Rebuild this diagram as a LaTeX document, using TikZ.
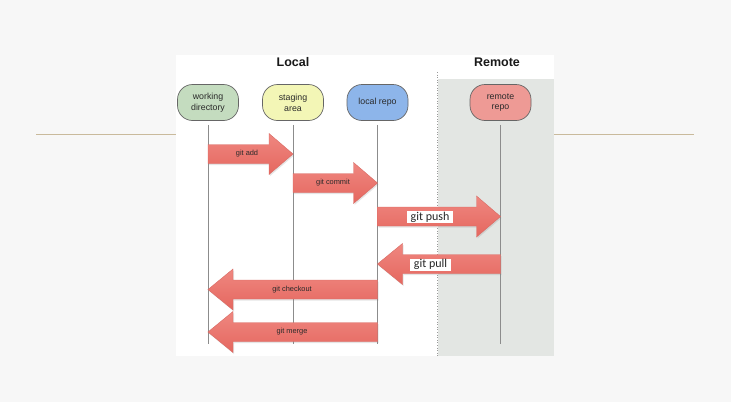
\documentclass[tikz,border=0pt]{standalone}
\usepackage{fontspec}
\setmainfont{Liberation Sans}
\newfontfamily\calibri{Carlito}
\usetikzlibrary{shadows}
\definecolor{bgc}{HTML}{F7F7F7}
\definecolor{tanc}{HTML}{C9BA9C}
\definecolor{remoteg}{HTML}{E3E6E3}
\definecolor{wdfill}{HTML}{C4DCBF}
\definecolor{safill}{HTML}{F3F6B6}
\definecolor{lrfill}{HTML}{8DB5EA}
\definecolor{rrfill}{HTML}{EE9A95}
\definecolor{arrtop}{HTML}{EF8780}
\definecolor{arrbot}{HTML}{E5675F}
\definecolor{arredge}{HTML}{D86A63}
\definecolor{txt}{HTML}{2A2A2A}
\tikzset{
  actor/.style={draw=black!60, line width=0.7pt, rounded corners=15pt,
    minimum width=61pt, minimum height=36pt, align=center, text=txt,
    font=\fontsize{8.8}{10.8}\selectfont, inner sep=1pt},
  life/.style={draw=black!45, line width=0.9pt},
  blockarr/.style={top color=arrtop, bottom color=arrbot, draw=arredge, line width=0.4pt,
    drop shadow={opacity=0.2, shadow xshift=1pt, shadow yshift=-1.5pt}},
  smalllbl/.style={text=txt, font=\fontsize{7.4}{8}\selectfont, inner sep=0pt},
  biglbl/.style={fill=white, text=black!85, font=\calibri\fontsize{12}{12}\selectfont,
    inner xsep=3.5pt, inner ysep=0.5pt, text height=8.5pt, text depth=2.5pt},
  header/.style={font=\bfseries\fontsize{12.5}{14}\selectfont, text=black!90}
}
% right-pointing: #1 = x from, #2 = x tip, #3 = y centre
\newcommand\barrowR[3]{%
  \path[blockarr] (#1,{#3-9.5}) -- ({#2-24},{#3-9.5}) -- ({#2-24},{#3-20.5}) -- (#2,#3)
    -- ({#2-24},{#3+20.5}) -- ({#2-24},{#3+9.5}) -- (#1,{#3+9.5}) -- cycle;}
\newcommand\barrowL[3]{%
  \path[blockarr] (#1,{#3-9.5}) -- ({#2+25},{#3-9.5}) -- ({#2+25},{#3-20.5}) -- (#2,#3)
    -- ({#2+25},{#3+20.5}) -- ({#2+25},{#3+9.5}) -- (#1,{#3+9.5}) -- cycle;}
\begin{document}
\begin{tikzpicture}[x=1pt,y=-1pt]
\fill[bgc] (0,0) rectangle (731,402);
\useasboundingbox (0,0) rectangle (731,402);
% decorative rules
\draw[tanc, line width=1.3pt] (36,134.5) -- (176,134.5);
\draw[tanc, line width=1.3pt] (554,134.5) -- (694,134.5);
% panel
\fill[white] (176,55) rectangle (554,356);
\fill[remoteg] (437.5,79) rectangle (554,356);
\draw[black!40, line width=0.6pt, dotted] (437,72) -- (437,356);
% headers
\node[header] (hlocal) at (293,62) {Local};
\node[header] (hremote) at (497,62) {Remote};
% actors
\node[actor, fill=wdfill] (wd) at (208,102.5) {working\\directory};
\node[actor, fill=safill] (sa) at (293,102.5) {staging\\area};
\node[actor, fill=lrfill] (lr) at (377.5,102.5) {local repo};
\node[actor, fill=rrfill] (rr) at (500.5,102.5) {remote\\repo};
% lifeline ends
\coordinate (wdend) at (208,344);
\coordinate (saend) at (293,344);
\coordinate (lrend) at (377.5,344);
\coordinate (rrend) at (500.5,344);
\draw[life] ([yshift=-4pt]wd.south) -- (wdend);
\draw[life] ([yshift=-4pt]sa.south) -- (saend);
\draw[life] ([yshift=-4pt]lr.south) -- (lrend);
\draw[life] ([yshift=-4pt]rr.south) -- (rrend);
% arrows
\barrowR{208}{293}{154}
\node[smalllbl] (ladd) at (247,153.5) {git add};
\barrowR{293}{377.5}{183}
\node[smalllbl] (lcommit) at (333,183) {git commit};
\barrowR{377.5}{500.5}{216.5}
\node[biglbl] (lpush) at (430,217) {git push};
\barrowL{500.5}{377.5}{264}
\node[biglbl] (lpull) at (430.5,264.5) {git pull};
\barrowL{377.5}{208}{289.5}
\node[smalllbl] (lcheckout) at (292,290) {git checkout};
\barrowL{377.5}{208}{332}
\node[smalllbl] (lmerge) at (292,332) {git merge};
\end{tikzpicture}
\end{document}
